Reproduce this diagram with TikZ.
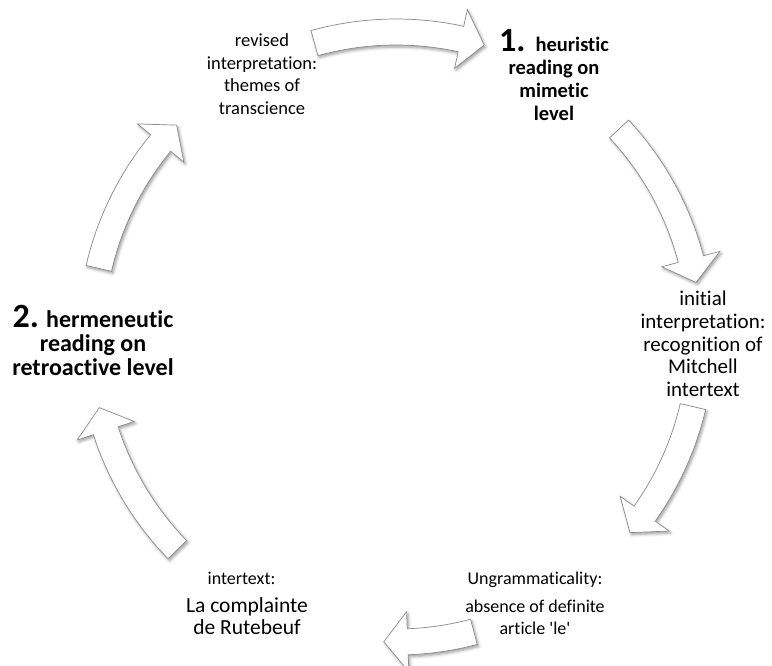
\documentclass[tikz,border=0pt]{standalone}
\usepackage{fontspec}
\setmainfont{Carlito}[Ligatures=NoCommon]
\usetikzlibrary{shadows.blur}

% Curved block arrow on the cycle: #1 = tail angle, #2 = tip angle (clockwise)
\newcommand{\cyclearrow}[2]{%
  \pgfmathsetmacro{\hb}{#2+4.5}%
  \path[cyc] (#1:318) arc[start angle=#1, end angle=\hb, radius=318]
    -- (\hb:335) -- (#2:305) -- (\hb:275) -- (\hb:292)
    arc[start angle=\hb, end angle=#1, radius=292] -- cycle;}
\newcommand{\fsz}[2]{\fontsize{#1}{#2}\selectfont}

\begin{document}
\begin{tikzpicture}[x=1pt,y=1pt,
  lbl/.style={align=center, text=black, inner sep=0pt},
  cyc/.style={fill=white, draw=black!45, line width=0.7pt, line join=miter,
    blur shadow={shadow xshift=1.5pt, shadow yshift=-2pt, shadow blur radius=3pt, shadow opacity=40}}]
\useasboundingbox (0,0) rectangle (772,665);
\clip (0,0) rectangle (772,665);

% arrows around the cycle
\begin{scope}[shift={(396,328)}]
  \cyclearrow{105.5}{73.2}
  \cyclearrow{43}{10.3}
  \cyclearrow{-13.2}{-39.9}
  \cyclearrow{-75.2}{-92.3}
  \cyclearrow{224.2}{193.4}
  \cyclearrow{167}{136}
\end{scope}

% stage labels
\node[lbl, font=\fsz{18.5}{22.5}] (revised) at (262,591)
  {revised\\interpretation:\\themes of\\transcience};
\node[lbl, font=\fsz{20.5}{23}\bfseries] (heuristic) at (554,590)
  {{\fsz{34}{30}1. }heuristic\\reading on\\mimetic\\level};
\node[lbl, font=\fsz{21}{22.75}] (initial) at (703,321)
  {initial\\interpretation:\\recognition of\\Mitchell\\intertext};
\node[lbl, font=\fsz{18}{22}] (ungram) at (535,62)
  {Ungrammaticality:\\[6pt]absence of definite\\article \textquotesingle le\textquotesingle};
\node[lbl, font=\fsz{21.5}{22}] (intertext) at (247,62)
  {{\fsz{18}{22}intertext:}\hspace*{11pt}\\[6pt]La complainte\\de Rutebeuf};
\node[lbl, font=\fsz{24}{24}\bfseries] (hermeneutic) at (93,325)
  {{\fsz{34}{30}2.} hermeneutic\\reading on\\retroactive level};
\end{tikzpicture}
\end{document}
